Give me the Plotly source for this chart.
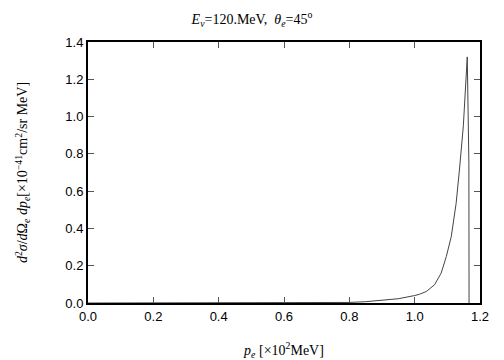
import plotly.graph_objects as go

# electron momentum p_e [x10^2 MeV]
p_e = [0.0, 0.2, 0.4, 0.6, 0.7, 0.76, 0.8, 0.85, 0.9, 0.95, 1.0, 1.015, 1.036, 1.061,
       1.081, 1.097, 1.112, 1.127, 1.137, 1.149, 1.161, 1.166, 1.1665]
# cross section d2sigma/dOmega dp [x10^-41 cm^2/sr MeV]
xsec = [0.0, 0.0, 0.0, 0.0, 0.0005, 0.001, 0.003, 0.007, 0.013, 0.023, 0.040, 0.047,
        0.062, 0.098, 0.16, 0.25, 0.356, 0.535, 0.713, 0.95, 1.32, 0.75, 0.0]

x_ticks = [0.0, 0.2, 0.4, 0.6, 0.8, 1.0, 1.2]
y_ticks = [0.0, 0.2, 0.4, 0.6, 0.8, 1.0, 1.2, 1.4]

fig = go.Figure()
fig.add_trace(go.Scatter(x=p_e, y=xsec, mode="lines",
                         line=dict(color="#444444", width=1), showlegend=False))

axis_common = dict(showgrid=False, zeroline=False, showline=True, linecolor="black",
                   linewidth=2, mirror="allticks", ticks="inside", ticklen=6,
                   tickwidth=1, tickcolor="#555555", automargin=False,
                   tickfont=dict(family="Liberation Sans, Arial, sans-serif", size=13, color="black"))

serif = "Liberation Serif, Times New Roman, serif"

fig.update_layout(
    width=504, height=360,
    margin=dict(l=88, r=24, t=42, b=57),
    paper_bgcolor="white", plot_bgcolor="white",
    title=dict(text="<i>E</i><sub><i>ν</i></sub>=120.MeV,  <i>θ</i><sub><i>e</i></sub>=45<sup>o</sup>",
               x=0.5, xanchor="center", y=0.948, yanchor="middle",
               font=dict(family=serif, size=14, color="black")),
    xaxis=dict(range=[0, 1.2], tickvals=x_ticks, ticktext=[f"{v:.1f}" for v in x_ticks],
               title=dict(text="<i>p<sub>e</sub></i> [×10<sup>2</sup>MeV]", standoff=24,
                          font=dict(family=serif, size=14, color="black")),
               **axis_common),
    yaxis=dict(range=[0, 1.4], tickvals=y_ticks, ticktext=[f"{v:.1f}" for v in y_ticks],
               title=dict(text="<i>d</i><sup>2</sup><i>σ</i>/<i>d</i>Ω<sub><i>e</i></sub> <i>dp<sub>e</sub></i>[×10<sup>−41</sup>cm<sup>2</sup>/sr MeV]",
                          standoff=34,
                          font=dict(family=serif, size=14, color="black")),
               **axis_common),
)

fig.write_html("out.html", config={"displayModeBar": False},
               post_script="document.body.style.margin='0';")
